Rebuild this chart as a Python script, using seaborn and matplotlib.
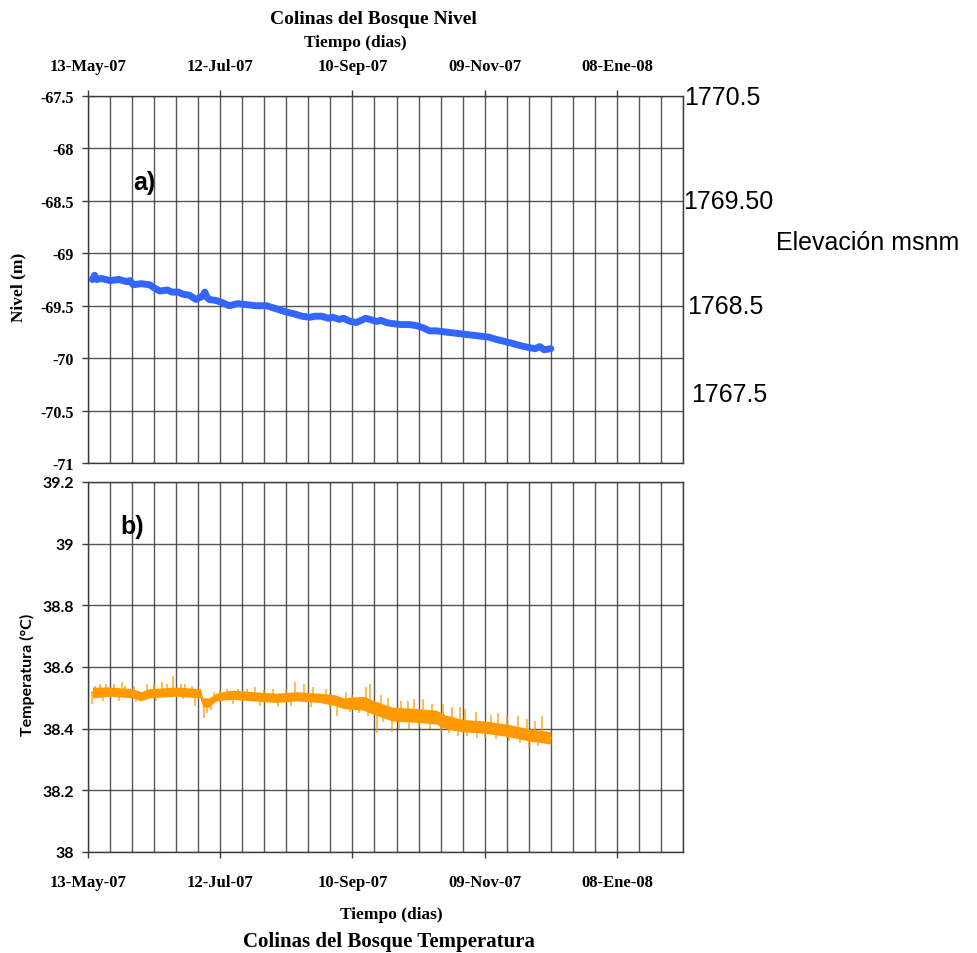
import matplotlib
matplotlib.use("Agg")
import matplotlib.pyplot as plt
import seaborn as sns
import numpy as np
from matplotlib.ticker import FixedLocator, MultipleLocator

# ---------------- data (x = days since 13-May-07) ----------------
date_ticks = [0, 60, 120, 180, 240]
date_labels = ["13-May-07", "12-Jul-07", "10-Sep-07", "09-Nov-07", "08-Ene-08"]

level_ticks = [-71, -70.5, -70, -69.5, -69, -68.5, -68, -67.5]
level_tick_labels = ["-71", "-70.5", "-70", "-69.5", "-69", "-68.5", "-68", "-67.5"]

temp_ticks = [38, 38.2, 38.4, 38.6, 38.8, 39, 39.2]
temp_tick_labels = ["38", "38.2", "38.4", "38.6", "38.8", "39", "39.2"]

level_days = [2, 3, 4, 6, 10, 14, 17.5, 19, 20.5, 24, 28, 30, 32.6, 36, 38, 41, 43, 46, 49,
              51, 52, 53, 54, 55, 58, 61, 64, 68, 72, 76, 81, 84, 87, 90, 94, 97, 100.6,
              103, 106, 109, 111, 114, 116, 119, 121.7, 124, 126, 127.8, 131, 133, 135.3,
              138, 142, 146, 149, 152, 155, 158, 162, 166, 170, 174, 178, 182, 185, 189,
              192.6, 196, 200.3, 203, 205, 207, 210]
level_values = [-69.25, -69.21, -69.25, -69.24, -69.26, -69.25, -69.27, -69.26, -69.30,
                -69.29, -69.30, -69.33, -69.36, -69.35, -69.37, -69.37, -69.39, -69.40,
                -69.44, -69.42, -69.41, -69.37, -69.42, -69.44, -69.45, -69.47, -69.50,
                -69.48, -69.49, -69.50, -69.50, -69.52, -69.54, -69.56, -69.58, -69.60,
                -69.61, -69.60, -69.60, -69.62, -69.61, -69.63, -69.62, -69.65, -69.66,
                -69.64, -69.62, -69.63, -69.65, -69.64, -69.66, -69.67, -69.68, -69.68,
                -69.69, -69.71, -69.74, -69.74, -69.75, -69.76, -69.77, -69.78, -69.79,
                -69.80, -69.82, -69.84, -69.86, -69.88, -69.90, -69.91, -69.89, -69.92,
                -69.91]

temp_days = [2, 10, 20, 24, 28, 40, 51, 52, 55, 58, 65, 75, 85, 95, 105, 112, 116, 125,
             130, 138, 150, 158, 162, 170, 180, 190, 200, 210]
temp_low = [38.50, 38.505, 38.50, 38.49, 38.50, 38.505, 38.50, 38.47, 38.47, 38.49,
            38.495, 38.49, 38.485, 38.49, 38.485, 38.475, 38.465, 38.46, 38.445, 38.425,
            38.42, 38.415, 38.40, 38.39, 38.385, 38.375, 38.36, 38.35]
temp_high = [38.535, 38.535, 38.53, 38.52, 38.53, 38.535, 38.53, 38.50, 38.50, 38.515,
             38.525, 38.52, 38.515, 38.52, 38.515, 38.51, 38.50, 38.505, 38.49, 38.47,
             38.465, 38.46, 38.445, 38.43, 38.425, 38.415, 38.40, 38.39]

spike_days = [3, 5.4, 8, 12, 15.3, 17, 21, 26.6, 30, 33.4, 36, 38.7, 42, 44, 47,
              57, 60, 63, 68, 72, 76, 80, 84, 90, 94, 98, 102, 108, 117, 120, 126, 128,
              133, 136, 142, 145, 148, 152, 156, 161, 165, 169, 171, 176, 183, 186, 190,
              195, 199, 203, 206,
              2, 7, 14, 22, 31, 43, 48.5, 52.5, 54, 56, 66, 78, 86, 92, 101, 110, 113,
              119, 123, 127, 131, 134, 138, 141, 145.5, 150, 155, 160, 164, 168, 172,
              176.5, 180, 185, 191, 196, 200, 204, 209]
spike_values = [38.54, 38.545, 38.545, 38.545, 38.55, 38.54, 38.54, 38.545, 38.545, 38.55,
                38.545, 38.57, 38.545, 38.545, 38.54,
                38.52, 38.525, 38.53, 38.53, 38.53, 38.535, 38.525, 38.53, 38.53, 38.55,
                38.545, 38.535, 38.53, 38.52, 38.51, 38.535, 38.545,
                38.51, 38.50, 38.49, 38.49, 38.495, 38.495, 38.48, 38.48, 38.47, 38.47,
                38.465, 38.455, 38.445, 38.45, 38.445, 38.44, 38.43, 38.425, 38.44,
                38.48, 38.49, 38.49, 38.485, 38.49, 38.495, 38.475, 38.435, 38.45, 38.46,
                38.48, 38.475, 38.47, 38.475, 38.47, 38.465, 38.44, 38.455, 38.45, 38.44,
                38.385, 38.42, 38.39, 38.40, 38.40, 38.405, 38.40, 38.39, 38.385, 38.375,
                38.375, 38.37, 38.37, 38.365, 38.36, 38.355, 38.34, 38.345, 38.35]

elev_labels = ["1770.5", "1769.50", "1768.5", "1767.5"]

# ---------------- style ----------------
sns.set_style("white")
plt.rcParams["font.family"] = ["Liberation Serif", "DejaVu Serif"]
for k in ("text.color", "axes.labelcolor", "xtick.color", "ytick.color"):
    plt.rcParams[k] = "black"

W, H = 977, 954
fig = plt.figure(figsize=(W / 100, H / 100), dpi=100)

def px(x0, y0, x1, y1):
    return [x0 / W, 1 - y1 / H, (x1 - x0) / W, (y1 - y0) / H]

ax1 = fig.add_axes(px(88, 97, 683, 464))
ax2 = fig.add_axes(px(88, 483, 683, 853))

BLUE = "#3366ff"
ORANGE = "#ff9900"
GRID = "#3a3a3a"

# top: level
sns.lineplot(x=level_days, y=level_values, ax=ax1, color=BLUE, linewidth=5.0,
             sort=False, estimator=None)

# bottom: temperature band + spikes
ax2.fill_between(temp_days, temp_low, temp_high, color=ORANGE, lw=0, zorder=3)
mid = (np.array(temp_low) + np.array(temp_high)) / 2
base = np.interp(spike_days, temp_days, mid)
ax2.vlines(spike_days, base, spike_values, color=ORANGE, lw=1.1, alpha=0.85, zorder=3)
sns.lineplot(x=temp_days, y=mid, ax=ax2, color=ORANGE, linewidth=1.5, estimator=None, zorder=3)

for ax in (ax1, ax2):
    ax.set_xlim(0, 270)
    ax.xaxis.set_major_locator(FixedLocator(date_ticks))
    ax.xaxis.set_minor_locator(MultipleLocator(10))
    ax.grid(which="both", axis="x", color=GRID, lw=1.0, alpha=0.85)
    ax.grid(which="major", axis="y", color=GRID, lw=1.0, alpha=0.85)
    ax.set_axisbelow(True)
    for s in ax.spines.values():
        s.set_color(GRID)
        s.set_linewidth(1.0)
        s.set_visible(True)
    ax.tick_params(which="minor", length=0)
    ax.tick_params(which="major", length=4, width=1, color=GRID)
    ax.set_xlabel("")
    ax.set_ylabel("")

ax1.set_ylim(-71, -67.5)
ax1.set_yticks(level_ticks)
ax1.set_yticklabels(level_tick_labels, fontsize=11.5, fontweight="bold")
ax1.xaxis.tick_top()
ax1.set_xticklabels(date_labels, fontsize=12, fontweight="bold")
ax1.tick_params(axis="x", which="major", pad=12, top=True, bottom=False)
ax1.tick_params(axis="y", which="major", pad=6, left=True)

ax2.set_ylim(38, 39.2)
ax2.set_yticks(temp_ticks)
ax2.set_yticklabels(temp_tick_labels, fontsize=11.5, fontweight="bold",
                    family=["Lato", "DejaVu Sans"])
ax2.set_xticklabels(date_labels, fontsize=12, fontweight="bold")
ax2.tick_params(axis="x", which="major", pad=12, bottom=True, top=False)
ax2.tick_params(axis="y", which="major", pad=6, left=True)

# titles / axis labels
def ftext(x, y, s, **kw):
    fig.text(x / W, 1 - y / H, s, **kw)

ftext(373, 20, "Colinas del Bosque Nivel", ha="center", va="center", fontsize=14, fontweight="bold")
ftext(355, 43, "Tiempo (dias)", ha="center", va="center", fontsize=12.5, fontweight="bold")
ftext(391, 915, "Tiempo (dias)", ha="center", va="center", fontsize=12.5, fontweight="bold")
ftext(389, 942, "Colinas del Bosque Temperatura", ha="center", va="center", fontsize=15, fontweight="bold")
ftext(18, 287, "Nivel (m)", ha="center", va="center", rotation=90, fontsize=12.5, fontweight="bold")
ftext(27, 675, "Temperatura (°C)", ha="center", va="center", rotation=90, fontsize=11.5,
      fontweight="bold", family=["Lato", "DejaVu Sans"])

ftext(133, 183, "a)", ha="left", va="center", fontsize=18, fontweight="bold", family=["Liberation Sans"])
ftext(120, 527, "b)", ha="left", va="center", fontsize=18, fontweight="bold", family=["Liberation Sans"])

# elevation labels on the right
elev_pos = [(684, 98), (683, 202), (687, 307), (691, 395)]
for lab, (x, y) in zip(elev_labels, elev_pos):
    ftext(x, y, lab, ha="left", va="center", fontsize=18, family=["Liberation Sans"])
ftext(776, 243, "Elevación msnm", ha="left", va="center", fontsize=18, family=["Liberation Sans"])

fig.savefig("out.png", dpi=100, facecolor="white")
